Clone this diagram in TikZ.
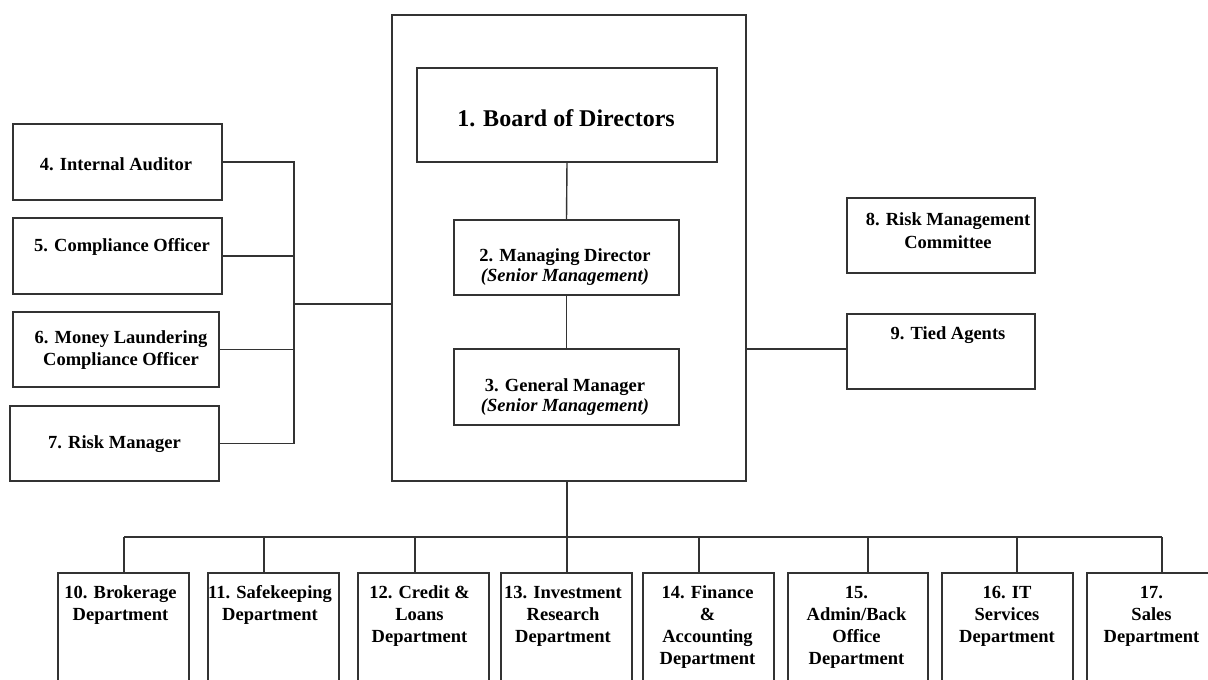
\documentclass[tikz,border=0pt]{standalone}
\usepackage{fontspec}
\setmainfont{Liberation Serif}
\begin{document}
\begin{tikzpicture}[x=1pt,y=-1pt,
  box/.style={draw=black!80,line width=1.4pt,inner sep=0pt,outer sep=0pt,fill=white},
  conn/.style={draw=black!80,line width=1.4pt},
  txt/.style={inner sep=0pt,align=center,text=black,yshift=-2pt,font=\fontsize{18.5}{22}\selectfont\bfseries},
  txtb/.style={txt,font=\fontsize{18.5}{20}\selectfont\bfseries},
  big/.style={inner sep=0pt,align=center,font=\fontsize{24}{28}\selectfont\bfseries}]
\useasboundingbox (0,0) rectangle (1208,680);
\clip (0,0) rectangle (1208,680);
\fill[white] (0,0) rectangle (1208,680);

% central block
\node[box,minimum width=354,minimum height=466] (outer) at (569,248) {};
\node[box,minimum width=300,minimum height=94] (b1) at (567,115) {};
\node[box,minimum width=225,minimum height=75] (b2) at (566.5,257.5) {};
\node[box,minimum width=225,minimum height=76] (b3) at (566.5,387) {};
\node[big] (l1) at (566,118.5) {1. Board of Directors};
\node[txtb] (l2) at (565,265.5) {2. Managing Director\\\textit{(Senior Management)}};
\node[txtb] (l3) at (565,395) {3. General Manager\\\textit{(Senior Management)}};
\draw[conn] (b1.south) -- (b2.north);
\draw[conn] (b2.south) -- (b3.north);

% left boxes
\node[box,minimum width=209,minimum height=76] (b4) at (117.5,162) {};
\node[box,minimum width=209,minimum height=76] (b5) at (117.5,256) {};
\node[box,minimum width=206,minimum height=75] (b6) at (116,349.5) {};
\node[box,minimum width=209,minimum height=75] (b7) at (114.5,443.5) {};
\node[txt] (l4) at (116,162) {4. Internal Auditor};
\node[txt] (l5) at (122,245) {5. Compliance Officer};
\node[txt] (l6) at (121,348) {6. Money Laundering\\Compliance Officer};
\node[txt] (l7) at (114.5,442) {7. Risk Manager};
\coordinate (lbus) at (294,304);
\draw[conn] (b4.east) -| (lbus);
\draw[conn] (b7.east) -| (lbus);
\draw[conn] (b5.east) -- (b5.east -| lbus);
\draw[conn] (b6.east) -- (b6.east -| lbus);
\draw[conn] (lbus) -- (lbus -| outer.west);

% right boxes
\node[box,minimum width=188,minimum height=75] (b8) at (941,235.5) {};
\node[box,minimum width=188,minimum height=75] (b9) at (941,351.5) {};
\node[txt,font=\fontsize{18.5}{23}\selectfont\bfseries] (l8) at (948,228.5) {8. Risk Management\\Committee};
\node[txt] (l9) at (948,333) {9. Tied Agents};
\coordinate (rj) at (746,349);
\draw[conn] (rj) -- (rj -| b9.west);

% bottom departments
\node[box,minimum width=131,minimum height=130] (b10) at (123.5,638) {};
\node[box,minimum width=131,minimum height=130] (b11) at (273.5,638) {};
\node[box,minimum width=131,minimum height=130] (b12) at (423.5,638) {};
\node[box,minimum width=131,minimum height=130] (b13) at (566.5,638) {};
\node[box,minimum width=131,minimum height=130] (b14) at (708.5,638) {};
\node[box,minimum width=140,minimum height=130] (b15) at (858,638) {};
\node[box,minimum width=131,minimum height=130] (b16) at (1007.5,638) {};
\node[box,minimum width=131,minimum height=130] (b17) at (1152.5,638) {};
\node[txt] (l10) at (120.5,603) {10. Brokerage\\Department};
\node[txt] (l11) at (270,603) {11. Safekeeping\\Department};
\node[txt] (l12) at (419.5,614) {12. Credit \&\\Loans\\Department};
\node[txt] (l13) at (563,614) {13. Investment\\Research\\Department};
\node[txt] (l14) at (707.5,625) {14. Finance\\\&\\Accounting\\Department};
\node[txt] (l15) at (856.5,625) {15.\\Admin/Back\\Office\\Department};
\node[txt] (l16) at (1007,614) {16. IT\\Services\\Department};
\node[txt] (l17) at (1151.5,614) {17.\\Sales\\Department};

\coordinate (bj) at (567,537);
\coordinate (d10) at (124,537);
\coordinate (d11) at (264,537);
\coordinate (d12) at (415,537);
\coordinate (d13) at (567,537);
\coordinate (d14) at (699,537);
\coordinate (d15) at (868,537);
\coordinate (d16) at (1017,537);
\coordinate (d17) at (1162,537);
\draw[conn] (bj) -- (bj |- outer.south);
\draw[conn] (d10) -- (d17);
\foreach \i in {10,...,17} {\draw[conn] (d\i) -- (d\i |- b\i.north);}
\end{tikzpicture}
\end{document}
